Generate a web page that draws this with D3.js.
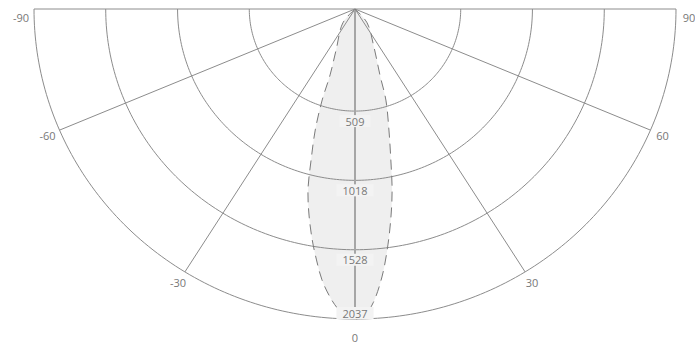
<!DOCTYPE html>
<html>
<head>
<meta charset="utf-8">
<script src="https://cdn.jsdelivr.net/npm/d3@7"></script>
<style>
  html, body { margin: 0; padding: 0; background: #fff; }
  svg { display: block; }
  text { font-family: "Open Sans", "DejaVu Sans", sans-serif; }
</style>
</head>
<body>
<svg id="chart" width="695" height="344"></svg>
<script>
// Polar light distribution curve (lower half-plane, 0° pointing down)

// angular grid, in degrees
const angleTicks = [-90, -60, -30, 0, 30, 60, 90];
// where each grid angle is drawn on the diagram (degrees)
const angleDrawn = [-90, -67, -32, 0, 32, 67, 90];

// radial grid values (cd)
const ringValues = [509, 1018, 1528, 2037];
const peakValue = 2037;

// luminous intensity curve: angle (deg) and intensity (cd)
const beamAngles = [-42, -37, -22.5, -18.8, -18, -16.5, -14.7, -13.2, -11.4, -9.5, -7.9, -6.3, -4.5, -3.1, -1.7, 0,
                    1.7, 3.2, 5.2, 7.2, 9.0, 10.5, 12.1, 14.2, 17.0, 18.8, 24.1, 37, 42];
const beamValues = [0, 119, 295, 461, 633, 834, 1031, 1226, 1385, 1542, 1667, 1792, 1899, 1967, 2018, 2037,
                    2012, 1934, 1769, 1564, 1373, 1212, 1018, 824, 630, 461, 277, 119, 0];

const svg = d3.select("#chart");
const cx = 355, cy = 9, R = 321, ky = 310 / 321;

const angleScale = d3.scaleLinear().domain(angleTicks).range(angleDrawn);
// grid rings start from an inner offset; the beam is measured from the pole
const ringScale = d3.scaleLinear().domain([0, peakValue]).range([34, R]);
const beamScale = d3.scaleLinear().domain([0, peakValue]).range([0, R]);

// drawn angle (deg) + radius -> screen point
function polar(tDeg, r) {
  const t = tDeg * Math.PI / 180;
  return [cx + r * Math.sin(t), cy + ky * r * Math.cos(t)];
}
const pt = (a, r) => polar(angleScale(a), r);

const gridColor = "#8c8c8c";
const textColor = "#787878";

// beam fill
const beamPts = beamAngles.map((a, i) => pt(a, beamScale(beamValues[i])));
const beamLine = d3.line().curve(d3.curveCatmullRom.alpha(0.5));
svg.append("path")
  .attr("d", beamLine(beamPts) + "Z")
  .attr("fill", "#efefef")
  .attr("stroke", "none");

// rings
const arcT = d3.range(-90, 90.01, 1);
const ringLine = d3.line();
svg.append("g").selectAll("path")
  .data(ringValues)
  .join("path")
  .attr("d", v => ringLine(arcT.map(t => polar(t, ringScale(v)))))
  .attr("fill", "none")
  .attr("stroke", gridColor)
  .attr("stroke-width", 1);

// spokes
svg.append("g").selectAll("line")
  .data(angleTicks)
  .join("line")
  .attr("x1", cx).attr("y1", cy)
  .attr("x2", a => pt(a, R)[0])
  .attr("y2", a => pt(a, R)[1])
  .attr("stroke", a => a === 0 ? "#a6a6a6" : gridColor)
  .attr("stroke-width", a => a === 0 ? 2 : 1);

// beam outline
svg.append("path")
  .attr("d", beamLine(beamPts))
  .attr("fill", "none")
  .attr("stroke", "#7a7a7a")
  .attr("stroke-width", 1)
  .attr("stroke-dasharray", "10,6");

// ring value labels along the 0° axis
const ringLabels = svg.append("g").selectAll("g")
  .data(ringValues)
  .join("g")
  .attr("transform", (v, i) => {
    const p = pt(0, ringScale(v));
    const off = i === ringValues.length - 1 ? -6 : 10;
    return `translate(${p[0]},${p[1] + off})`;
  });
ringLabels.append("rect")
  .attr("fill", "#f3f3f3");
ringLabels.append("text")
  .attr("text-anchor", "middle")
  .attr("dominant-baseline", "central")
  .attr("font-size", 11)
  .attr("fill", textColor)
  .text(v => v);
ringLabels.each(function () {
  const g = d3.select(this);
  const bb = g.select("text").node().getBBox();
  g.select("rect")
    .attr("x", bb.x - 6).attr("y", -6)
    .attr("width", bb.width + 12).attr("height", 12);
});

// angle labels
svg.append("g").selectAll("text")
  .data(angleTicks)
  .join("text")
  .attr("x", a => pt(a, R + 13)[0])
  .attr("y", a => pt(a, R + 13)[1] + (Math.abs(a) === 90 ? 8 : a === 0 ? 6 : 0))
  .attr("text-anchor", "middle")
  .attr("dominant-baseline", "central")
  .attr("font-size", 11)
  .attr("fill", textColor)
  .text(a => a);
</script>
</body>
</html>
